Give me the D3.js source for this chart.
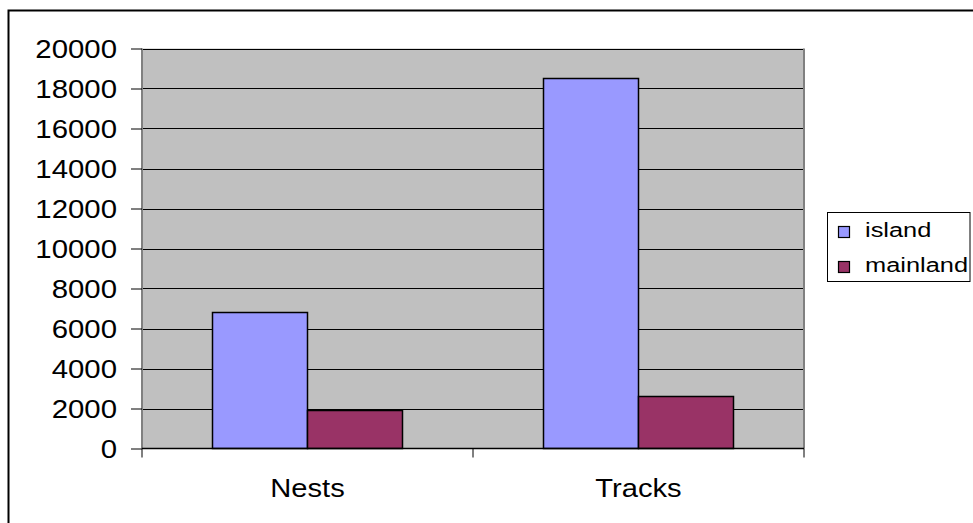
<!DOCTYPE html>
<html>
<head>
<meta charset="utf-8">
<script src="https://cdn.jsdelivr.net/npm/d3@7"></script>
<style>
  html, body { margin: 0; padding: 0; background: #fff; }
  svg { display: block; font-family: "Liberation Sans", Arial, sans-serif; }
</style>
</head>
<body>
<svg id="chart" width="973" height="523"></svg>
<script>
// Nesting activity counts by location
const categories = ["Nests", "Tracks"];
const seriesNames = ["island", "mainland"];
const island = [6800, 18500];
const mainland = [1900, 2600];
const yTicks = [0, 2000, 4000, 6000, 8000, 10000, 12000, 14000, 16000, 18000, 20000];
const colors = ["#9999FF", "#993366"];

const seriesValues = [island, mainland];

const svg = d3.select("#chart");
const plot = { left: 142, right: 804, top: 48.5, bottom: 448.5 };

// Stretches text horizontally by factor sx, keeping the anchor position
function stretch(sel, sx, anchor) {
  sel.each(function () {
    const t = d3.select(this);
    const w = this.getComputedTextLength();
    const x = +t.attr("x");
    const nw = w * sx;
    let x0 = x;
    if (anchor === "end") x0 = x - nw;
    else if (anchor === "middle") x0 = x - nw / 2;
    t.attr("text-anchor", "start").attr("x", x0)
     .attr("textLength", nw).attr("lengthAdjust", "spacingAndGlyphs");
  });
}

// Outer chart frame
svg.append("rect")
  .attr("x", 8.5).attr("y", 10.5)
  .attr("width", 1000).attr("height", 600)
  .attr("fill", "#fff").attr("stroke", "#000").attr("stroke-width", 2);

const y = d3.scaleLinear().domain([0, 20000]).range([plot.bottom, plot.top]);
const x0 = d3.scaleBand().domain(categories).range([plot.left, plot.right])
  .paddingInner(0.426).paddingOuter(0.213);
const x1 = d3.scaleBand().domain(seriesNames).range([0, x0.bandwidth()]);

// Plot background
svg.append("rect")
  .attr("x", plot.left).attr("y", plot.top)
  .attr("width", plot.right - plot.left).attr("height", plot.bottom - plot.top)
  .attr("fill", "#C0C0C0");

// Horizontal gridlines
svg.append("g").selectAll("line")
  .data(yTicks.filter(d => d > 0))
  .join("line")
  .attr("x1", plot.left).attr("x2", plot.right)
  .attr("y1", d => Math.round(y(d)) + 0.5).attr("y2", d => Math.round(y(d)) + 0.5)
  .attr("stroke", "#000").attr("stroke-width", 1);

// Plot area frame (right side)
svg.append("line")
  .attr("x1", plot.right).attr("x2", plot.right)
  .attr("y1", plot.top).attr("y2", plot.bottom)
  .attr("stroke", "#808080").attr("stroke-width", 2);

// Bars
const groups = svg.append("g").selectAll("g")
  .data(categories)
  .join("g")
  .attr("transform", d => `translate(${x0(d)},0)`);

groups.selectAll("rect")
  .data((c, i) => seriesNames.map((s, j) => ({ s, v: seriesValues[j][i], j })))
  .join("rect")
  .attr("x", d => x1(d.s))
  .attr("y", d => y(d.v))
  .attr("width", x1.bandwidth())
  .attr("height", d => y(0) - y(d.v))
  .attr("fill", d => colors[d.j])
  .attr("stroke", "#000").attr("stroke-width", 1.5);

// Y axis
const yAxis = svg.append("g")
  .attr("transform", `translate(${plot.left},0)`)
  .call(d3.axisLeft(y).tickValues(yTicks).tickSize(11).tickPadding(14).tickFormat(d3.format("d")));
yAxis.select(".domain").attr("stroke", "#808080").attr("stroke-width", 2).attr("d", `M0,${plot.top}V${plot.bottom}`);
yAxis.selectAll(".tick line").attr("stroke", "#000");
yAxis.selectAll(".tick text")
  .attr("font-size", 26).attr("fill", "#000")
  .attr("font-family", "Liberation Sans, Arial, sans-serif")
  .attr("dy", "0.36em");
yAxis.selectAll(".tick text").each(function () {
  const t = d3.select(this);
  t.attr("x", -25);
});
stretch(yAxis.selectAll(".tick text"), 1.13, "end");

// X axis line with category dividers
const xAxis = svg.append("g");
xAxis.append("line")
  .attr("x1", plot.left).attr("x2", plot.right)
  .attr("y1", plot.bottom).attr("y2", plot.bottom)
  .attr("stroke", "#000").attr("stroke-width", 1.5);
const dividers = [plot.left].concat(categories.map(c => x0(c) + x0.bandwidth() + x0.step() * x0.paddingInner() / 2));
xAxis.selectAll(".div")
  .data(dividers)
  .join("line")
  .attr("x1", d => d).attr("x2", d => d)
  .attr("y1", plot.bottom).attr("y2", plot.bottom + 9)
  .attr("stroke", "#000").attr("stroke-width", 1);
const catLabels = xAxis.selectAll(".cat")
  .data(categories)
  .join("text")
  .attr("x", d => x0(d) + x0.bandwidth() / 2)
  .attr("y", 497)
  .attr("font-size", 26).attr("fill", "#000")
  .text(d => d);
stretch(catLabels, 1.12, "middle");

// Legend
const legend = svg.append("g");
legend.append("rect")
  .attr("x", 827.5).attr("y", 212.5).attr("width", 142.5).attr("height", 69)
  .attr("fill", "#fff").attr("stroke", "#000").attr("stroke-width", 1);
const items = legend.selectAll(".item")
  .data(seriesNames)
  .join("g")
  .attr("transform", (d, i) => `translate(0,${i * 35})`);
items.append("rect")
  .attr("x", 838.5).attr("y", 226.5).attr("width", 11).attr("height", 11)
  .attr("fill", (d, i) => colors[i]).attr("stroke", "#000").attr("stroke-width", 1.2);
const legendText = items.append("text")
  .attr("x", 865).attr("y", 237)
  .attr("font-size", 20).attr("fill", "#000")
  .text(d => d);
stretch(legendText, 1.27, "start");
</script>
</body>
</html>
